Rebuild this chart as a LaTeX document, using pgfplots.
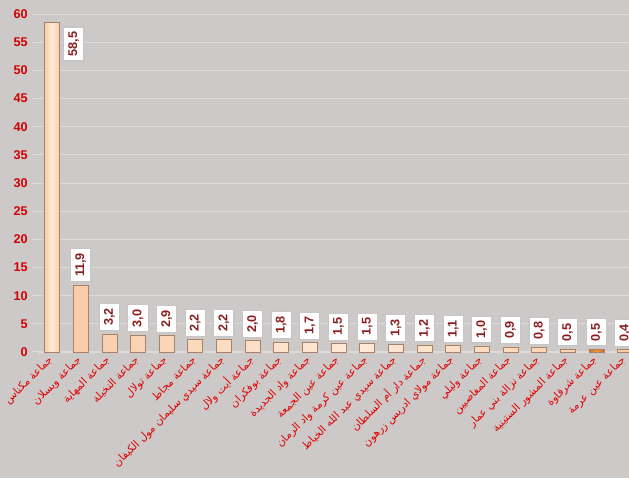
\documentclass[border=0pt]{standalone}
\usepackage{pgfplots}
\pgfplotsset{compat=1.18}
\usepackage{fontspec}
\setmainfont{Liberation Sans}
\newfontfamily\arabicfont[Script=Arabic]{DejaVu Sans}
\TeXXeTstate=1
\definecolor{bg}{HTML}{CDC9C8}
\definecolor{gridc}{HTML}{DDDAD9}
\definecolor{barside}{HTML}{F8CDA8}
\definecolor{barmid}{HTML}{FFE9D8}
\definecolor{baredge}{HTML}{A58268}
\definecolor{orside}{HTML}{D66E22}
\definecolor{ormid}{HTML}{EE9445}
\definecolor{lblred}{HTML}{8A1E1E}
\definecolor{tickred}{HTML}{D40000}
\definecolor{catred}{HTML}{E00000}

\pgfplotstableread{
x y
1 11.9
2 3.2
3 3.0
4 2.9
5 2.2
6 2.2
7 2.0
8 1.8
9 1.7
10 1.5
11 1.5
12 1.3
13 1.2
14 1.1
15 1.0
16 0.9
17 0.8
18 0.5
20 0.4
}\mainbars
\pgfplotstableread{
x y
0 58.5
}\firstbar
\pgfplotstableread{
x y
19 0.5
}\orangebar

\begin{document}
\begin{tikzpicture}
\useasboundingbox (0,0) rectangle (471.75pt,358.5pt);
\fill[bg] (0,0) rectangle (471.75pt,358.5pt);
\clip (0,0) rectangle (471.75pt,358.5pt);
\begin{axis}[
  at={(28.3pt,94.5pt)}, anchor=south west,
  scale only axis, width=451.2pt, height=253.5pt,
  xmin=-0.5, xmax=20.5, ymin=0, ymax=60,
  ytick={0,5,...,60},
  xtick={0,...,20},
  xticklabels={
    {\arabicfont\beginR جماعة مكناس\endR},
    {\arabicfont\beginR جماعة ويسلان\endR},
    {\arabicfont\beginR جماعة المهاية\endR},
    {\arabicfont\beginR جماعة النخيلة\endR},
    {\arabicfont\beginR جماعة تولال\endR},
    {\arabicfont\beginR جماعة مجاط\endR},
    {\arabicfont\beginR جماعة سيدي سليمان مول الكيفان\endR},
    {\arabicfont\beginR جماعة أيت ولال\endR},
    {\arabicfont\beginR جماعة بوفكران\endR},
    {\arabicfont\beginR جماعة واد الجديدة\endR},
    {\arabicfont\beginR جماعة عين الجمعة\endR},
    {\arabicfont\beginR جماعة عين كرمة واد الرمان\endR},
    {\arabicfont\beginR جماعة سيدي عبد الله الخياط\endR},
    {\arabicfont\beginR جماعة دار أم السلطان\endR},
    {\arabicfont\beginR جماعة مولاي ادريس زرهون\endR},
    {\arabicfont\beginR جماعة وليلي\endR},
    {\arabicfont\beginR جماعة المغاصيين\endR},
    {\arabicfont\beginR جماعة نزالة بني عمار\endR},
    {\arabicfont\beginR جماعة المشور الستينية\endR},
    {\arabicfont\beginR جماعة شرقاوة\endR},
    {\arabicfont\beginR جماعة عين عرمة\endR}
  },
  xticklabel style={rotate=45, anchor=east, font=\fontsize{8}{9}\selectfont, text=catred, inner sep=1pt},
  yticklabel style={font=\bfseries\fontsize{9.5}{10}\selectfont, text=tickred},
  /pgf/number format/assume math mode=true,
  axis x line*=bottom, axis y line*=left,
  x axis line style={draw=gridc, line width=1.5pt, -},
  y axis line style={draw=none},
  x tick style={draw=none},
  y tick style={draw=gridc, line width=0.75pt},
  major tick length=4pt,
  tick align=outside,
  ymajorgrids,
  grid style={draw=gridc, line width=0.75pt},
  ybar, bar width=11.25pt, bar shift=0pt,
  clip=false,
]
\addplot[ybar, draw=baredge, line width=0.5pt, left color=barside, right color=barside, middle color=barmid,
  nodes near coords={\pgfmathprintnumber[use comma,fixed,fixed zerofill,precision=1,assume math mode=true]{\pgfplotspointmeta}},
  every node near coord/.append style={rotate=90, anchor=west, outer xsep=2.5pt,
    fill=white, draw=gray!45, line width=0.8pt, inner xsep=3.5pt, inner ysep=3.5pt,
    font=\bfseries\fontsize{9.5}{10}\selectfont, text=lblred}]
  table[x=x, y=y] {\mainbars};
\addplot[ybar, draw=baredge, line width=0.5pt, left color=orside, right color=orside, middle color=ormid,
  nodes near coords={\pgfmathprintnumber[use comma,fixed,fixed zerofill,precision=1,assume math mode=true]{\pgfplotspointmeta}},
  every node near coord/.append style={rotate=90, anchor=west, outer xsep=2.5pt,
    fill=white, draw=gray!45, line width=0.8pt, inner xsep=3.5pt, inner ysep=3.5pt,
    font=\bfseries\fontsize{9.5}{10}\selectfont, text=lblred}]
  table[x=x, y=y] {\orangebar};
\addplot[ybar, draw=baredge, line width=0.5pt, left color=barside, right color=barside, middle color=barmid,
  nodes near coords={\pgfmathprintnumber[use comma,fixed,fixed zerofill,precision=1,assume math mode=true]{\pgfplotspointmeta}},
  every node near coord/.append style={xshift=8.25pt, yshift=-3pt, rotate=90, anchor=north east,
    fill=white, draw=gray!45, line width=0.8pt, inner xsep=3.5pt, inner ysep=3.5pt,
    font=\bfseries\fontsize{9.5}{10}\selectfont, text=lblred}]
  table[x=x, y=y] {\firstbar};
\end{axis}
\end{tikzpicture}
\end{document}
